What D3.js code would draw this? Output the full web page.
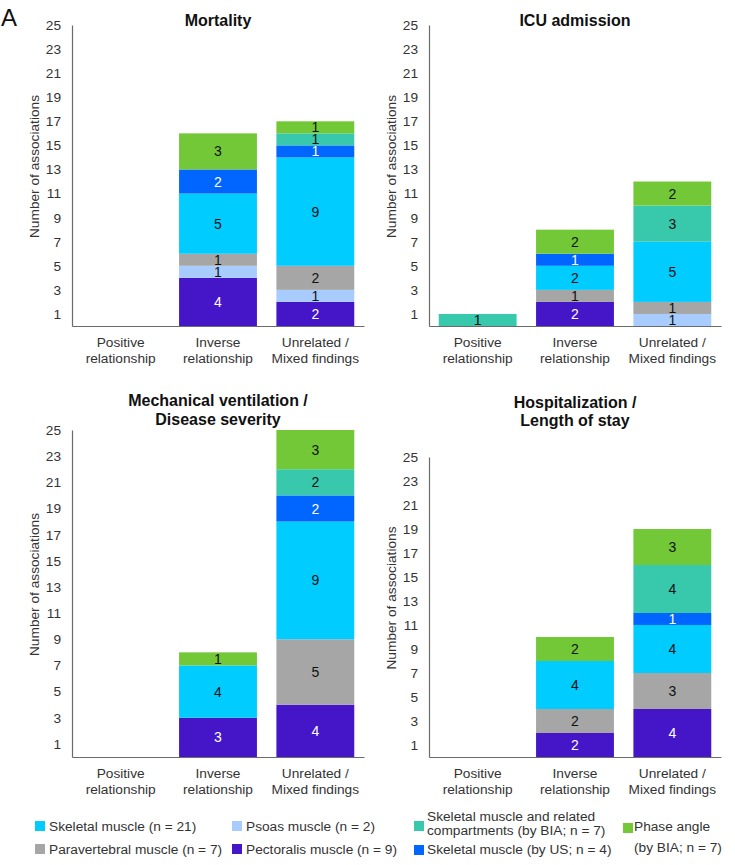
<!DOCTYPE html>
<html>
<head>
<meta charset="utf-8">
<script src="https://cdn.jsdelivr.net/npm/d3@7/dist/d3.min.js"></script>
<style>
  html, body { margin: 0; padding: 0; background: #fff; }
  svg { display: block; font-family: "Liberation Sans", Arial, sans-serif; }
</style>
</head>
<body>
<svg id="chart" width="735" height="865"></svg>
<script>
// ---------- DATA ----------
const categories = [["Positive", "relationship"], ["Inverse", "relationship"], ["Unrelated /", "Mixed findings"]];
const seriesKeys = ["Pectoralis", "Psoas", "Paravertebral", "Skeletal", "SkeletalUS", "BIA", "PhaseAngle"];
const seriesColors = ["#4516C7", "#A9CCFF", "#A6A6A6", "#00CCFF", "#0066FF", "#38C8AB", "#72C837"];
const labelColors = ["#ffffff", "#111111", "#111111", "#111111", "#ffffff", "#111111", "#111111"];
const tickValues = [1, 3, 5, 7, 9, 11, 13, 15, 17, 19, 21, 23, 25];
const yMax = 25;
const yAxisTitle = "Number of associations";
const panelLetter = "A";

// values per series (rows: series in seriesKeys order; columns: categories)
const mortalityValues = [
  [0, 4, 2], [0, 1, 1], [0, 1, 2], [0, 5, 9], [0, 2, 1], [0, 0, 1], [0, 3, 1]
];
const icuValues = [
  [0, 2, 0], [0, 0, 1], [0, 1, 1], [0, 2, 5], [0, 1, 0], [1, 0, 3], [0, 2, 2]
];
const ventilationValues = [
  [0, 3, 4], [0, 0, 0], [0, 0, 5], [0, 4, 9], [0, 0, 2], [0, 0, 2], [0, 1, 3]
];
const hospitalValues = [
  [0, 2, 4], [0, 0, 0], [0, 2, 3], [0, 4, 4], [0, 0, 1], [0, 0, 4], [0, 2, 3]
];
const panelTitles = [["Mortality"], ["ICU admission"], ["Mechanical ventilation /", "Disease severity"], ["Hospitalization /", "Length of stay"]];

const legendLabels = [
  ["Skeletal muscle (n = 21)"],
  ["Psoas muscle (n = 2)"],
  ["Skeletal muscle and related", "compartments (by BIA; n = 7)"],
  ["Phase angle", "(by BIA; n = 7)"],
  ["Paravertebral muscle (n = 7)"],
  ["Pectoralis muscle (n = 9)"],
  ["Skeletal muscle (by US; n = 4)"]
];
const legendSeries = [3, 1, 5, 6, 2, 0, 4];

// ---------- LAYOUT ----------
const svg = d3.select("#chart");
const textColor = "#333333";
const axisColor = "#6b6b6b";

const panels = [
  { values: mortalityValues,   title: panelTitles[0], x0: 72,  x1: 364, top: 25,  base: 326, titleY: [20] },
  { values: icuValues,         title: panelTitles[1], x0: 429, x1: 721, top: 25,  base: 326, titleY: [20] },
  { values: ventilationValues, title: panelTitles[2], x0: 72,  x1: 364, top: 430, base: 757, titleY: [400, 419] },
  { values: hospitalValues,    title: panelTitles[3], x0: 429, x1: 721, top: 457, base: 757, titleY: [402, 420] }
];

svg.append("text")
  .attr("x", 1).attr("y", 26)
  .attr("font-size", 24).attr("fill", "#111")
  .text(panelLetter);

panels.forEach(p => {
  const g = svg.append("g");
  const x = d3.scaleBand().domain(d3.range(categories.length)).range([p.x0, p.x1]).paddingInner(0.2).paddingOuter(0.1);
  const y = d3.scaleLinear().domain([0, yMax]).range([p.base, p.top]);

  // stacked data
  const rows = categories.map((c, i) => {
    const r = { idx: i };
    seriesKeys.forEach((k, s) => r[k] = p.values[s][i]);
    return r;
  });
  const stacked = d3.stack().keys(seriesKeys)(rows);

  stacked.forEach((layer, s) => {
    const lg = g.append("g");
    lg.selectAll("rect").data(layer.filter(d => d[1] - d[0] > 0)).join("rect")
      .attr("x", d => x(d.data.idx))
      .attr("width", x.bandwidth())
      .attr("y", d => y(d[1]))
      .attr("height", d => y(d[0]) - y(d[1]))
      .attr("fill", seriesColors[s]);
    lg.selectAll("text").data(layer.filter(d => d[1] - d[0] > 0)).join("text")
      .attr("x", d => x(d.data.idx) + x.bandwidth() / 2)
      .attr("y", d => (y(d[0]) + y(d[1])) / 2)
      .attr("dy", "0.36em")
      .attr("text-anchor", "middle")
      .attr("font-size", 14)
      .attr("fill", labelColors[s])
      .text(d => d[1] - d[0]);
  });

  // y axis
  const ya = g.append("g").attr("transform", `translate(${p.x0},0)`)
    .call(d3.axisLeft(y).tickValues(tickValues).tickSize(0).tickSizeOuter(0).tickPadding(11));
  ya.select(".domain").attr("stroke", axisColor).attr("stroke-width", 1.2);
  ya.selectAll("text").attr("font-size", 13.7).attr("fill", textColor).attr("font-family", "Liberation Sans, Arial, sans-serif");

  // x axis
  const xa = g.append("g").attr("transform", `translate(0,${p.base})`)
    .call(d3.axisBottom(x).tickSize(0).tickSizeOuter(0).tickFormat(""));
  xa.select(".domain").attr("stroke", axisColor).attr("stroke-width", 1.2);
  xa.selectAll(".tick text").remove();
  categories.forEach((c, i) => {
    const t = g.append("text")
      .attr("x", x(i) + x.bandwidth() / 2)
      .attr("text-anchor", "middle")
      .attr("font-size", 13.7)
      .attr("fill", textColor);
    c.forEach((line, j) => {
      t.append("tspan").attr("x", x(i) + x.bandwidth() / 2).attr("y", p.base + 21 + j * 16).text(line);
    });
  });

  // y axis title
  const cx = p.x0 - 38;
  const cy = (p.top + p.base) / 2 - 9;
  g.append("text")
    .attr("transform", `translate(${cx},${cy}) rotate(-90)`)
    .attr("text-anchor", "middle")
    .attr("dy", "0.35em")
    .attr("font-size", 13.7)
    .attr("fill", textColor)
    .text(yAxisTitle);

  // title
  p.title.forEach((line, j) => {
    g.append("text")
      .attr("x", (p.x0 + p.x1) / 2)
      .attr("y", p.titleY[j])
      .attr("dy", "0.35em")
      .attr("text-anchor", "middle")
      .attr("font-size", 16)
      .attr("font-weight", "bold")
      .attr("fill", "#111")
      .text(line);
  });
});

// ---------- LEGEND ----------
const legendPos = [
  { sx: 35,  sy: 821, tx: 49,  ty: [831] },
  { sx: 232, sy: 821, tx: 246, ty: [831] },
  { sx: 414, sy: 821, tx: 427, ty: [821, 835] },
  { sx: 623, sy: 823, tx: 634, ty: [831, 852] },
  { sx: 35,  sy: 844, tx: 49,  ty: [854] },
  { sx: 232, sy: 844, tx: 246, ty: [854] },
  { sx: 414, sy: 845, tx: 427, ty: [854] }
];
const lg = svg.append("g");
legendLabels.forEach((lines, i) => {
  const pos = legendPos[i];
  lg.append("rect").attr("x", pos.sx).attr("y", pos.sy).attr("width", 10).attr("height", 10)
    .attr("fill", seriesColors[legendSeries[i]]);
  lines.forEach((line, j) => {
    lg.append("text").attr("x", pos.tx).attr("y", pos.ty[j])
      .attr("font-size", 13.7).attr("fill", textColor).text(line);
  });
});
</script>
</body>
</html>
